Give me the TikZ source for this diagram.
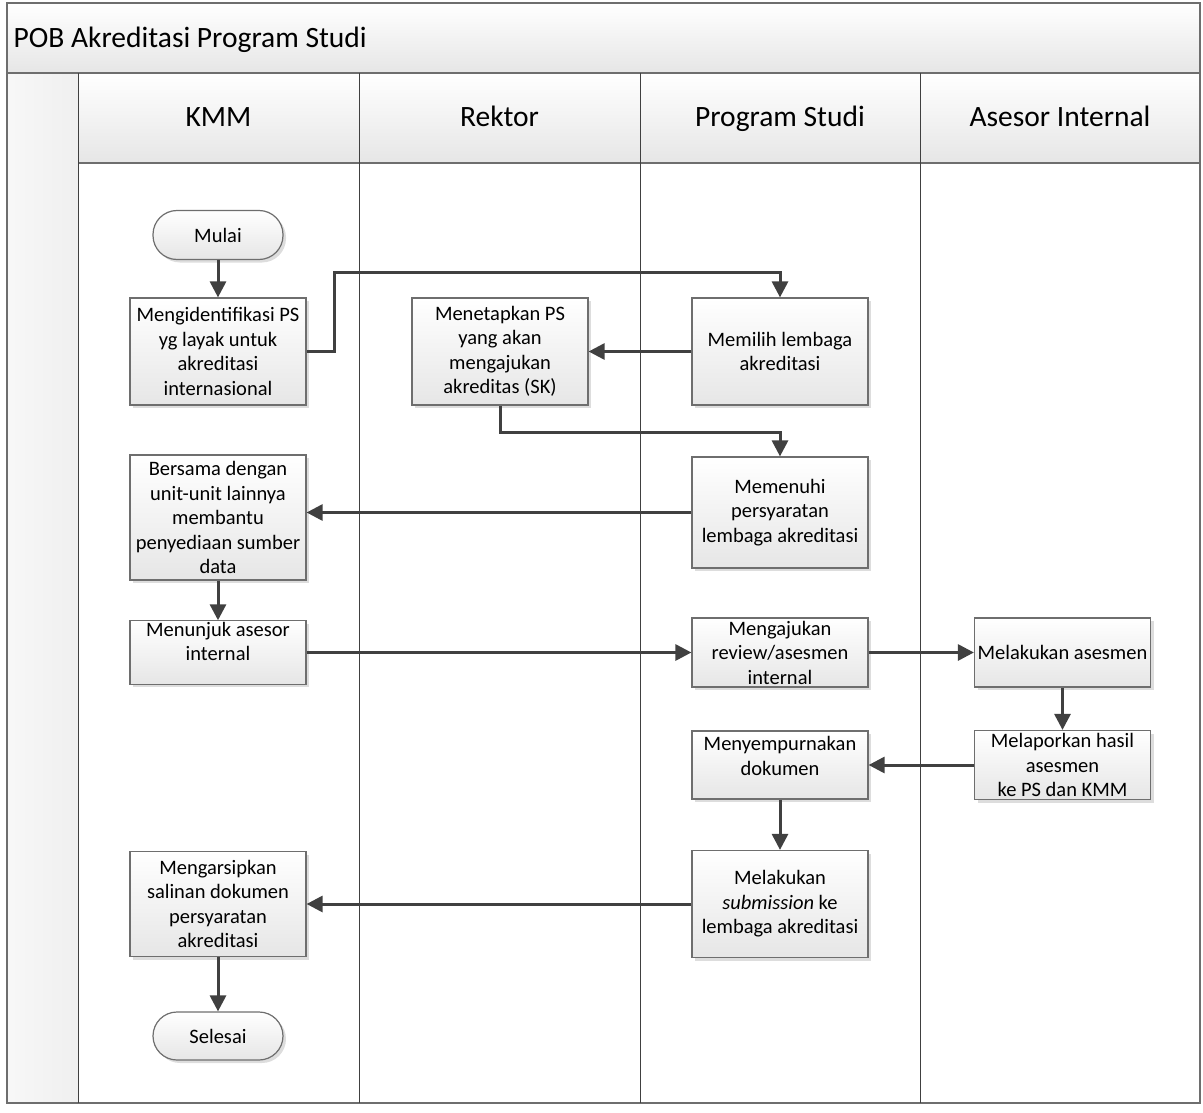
\documentclass[tikz,border=0pt]{standalone}
\usepackage{fontspec}
\setmainfont{Carlito}
\usetikzlibrary{arrows.meta,shadows}
\definecolor{linegray}{HTML}{404040}
\definecolor{framegray}{HTML}{6E6E6E}
\definecolor{shadegray}{HTML}{E6E6E6}
\begin{document}
\begin{tikzpicture}[x=1pt,y=-1pt,every node/.style={font=\fontsize{20.5}{24.5}\selectfont},
  procbox/.style={draw=framegray,line width=1.2pt,rectangle,align=center,inner xsep=2pt,inner ysep=1pt,
    minimum width=176pt,top color=white,bottom color=shadegray,
    drop shadow={shadow xshift=3pt,shadow yshift=-3pt,fill=gray!45,opacity=.6}},
  termbox/.style={procbox,rounded corners=24pt,minimum width=130pt,minimum height=49pt},
  flow/.style={draw=linegray,line width=3pt,-{Triangle[length=16pt,width=16pt]}},
  lanehead/.style={font=\fontsize{29.5}{34}\selectfont,anchor=base}]
\useasboundingbox (0,0) rectangle (1203,1113);
% pool and lanes
\shade[top color=white,bottom color=shadegray] (7,3) rectangle (1200,73);
\shade[left color=white!94!gray,right color=white!88!gray] (7,73) rectangle (78,1103);
\shade[top color=white,bottom color=shadegray] (78,73) rectangle (1200,163);
\draw[framegray,line width=1.2pt] (7,3) rectangle (1200,1103);
\draw[framegray,line width=1.2pt] (7,73) -- (1200,73);
\draw[framegray,line width=1.2pt] (78,163) -- (1200,163);
\draw[linegray,line width=1pt] (78,73) -- (78,1103);
\draw[linegray,line width=1pt] (359,73) -- (359,1103);
\draw[linegray,line width=1pt] (640,73) -- (640,1103);
\draw[linegray,line width=1pt] (920,73) -- (920,1103);
\node[lanehead,anchor=base west] (title) at (10,48) {POB Akreditasi Program Studi};
\node[lanehead] (hkmm) at (218.5,127) {KMM};
\node[lanehead] (hrektor) at (499.5,127) {Rektor};
\node[lanehead] (hprodi) at (780,127) {Program Studi};
\node[lanehead] (hasesor) at (1060,127) {Asesor Internal};
% KMM
\node[termbox] (mulai) at (218,235) {Mulai};
\node[procbox,minimum height=107pt] (ident) at (218,351.5) {Mengidentifikasi PS\\yg layak untuk\\akreditasi\\internasional};
\node[procbox,minimum height=125pt] (bersama) at (218,517.5) {Bersama dengan\\unit-unit lainnya\\membantu\\penyediaan sumber\\data};
\node[procbox,minimum height=63pt] (tunjuk) at (218,652.5) {Menunjuk asesor\\internal\\[-2pt]};
\node[procbox,minimum height=105pt] (arsip) at (218,904) {Mengarsipkan\\salinan dokumen\\persyaratan\\akreditasi};
\node[termbox,minimum height=48pt] (selesai) at (218,1036) {Selesai};
% Rektor
\node[procbox,minimum height=107pt] (tetap) at (500,351.5) {Menetapkan PS\\yang akan\\mengajukan\\akreditas (SK)};
% Program Studi
\node[procbox,minimum height=107pt] (pilih) at (780,351.5) {Memilih lembaga\\akreditasi};
\node[procbox,minimum height=111pt] (penuhi) at (780,512.5) {Memenuhi\\persyaratan\\lembaga akreditasi};
\node[procbox,minimum height=69pt] (ajukan) at (780,652.5) {Mengajukan\\review/asesmen\\internal};
\node[procbox,minimum height=68pt] (sempurna) at (780,765) {Menyempurnakan\\dokumen\\[-6pt]};
\node[procbox,minimum height=107pt] (submit) at (780,904) {Melakukan\\\textit{submission} ke\\lembaga akreditasi};
% Asesor Internal
\node[procbox,minimum height=69pt] (asesmen) at (1062.5,652.5) {Melakukan asesmen};
\node[procbox,minimum height=69pt] (lapor) at (1062.5,765) {Melaporkan hasil\\asesmen\\ke PS dan KMM};
% connectors
\draw[flow] (mulai) -- (ident);
\draw[flow] (ident.east) -- ++(28,0) |- (pilih.north |- 0,272) -- (pilih.north);
\draw[flow] (pilih.west) -- (tetap.east);
\draw[flow] (tetap.south) -- ++(0,26.5) -| (penuhi.north);
\draw[flow] (penuhi.west) -- (penuhi.west -| bersama.east);
\draw[flow] (bersama) -- (tunjuk);
\draw[flow] (tunjuk) -- (ajukan);
\draw[flow] (ajukan) -- (asesmen);
\draw[flow] (asesmen) -- (lapor);
\draw[flow] (lapor.west) -- (lapor.west -| sempurna.east);
\draw[flow] (sempurna) -- (submit);
\draw[flow] (submit) -- (arsip);
\draw[flow] (arsip) -- (selesai);
\end{tikzpicture}
\end{document}
